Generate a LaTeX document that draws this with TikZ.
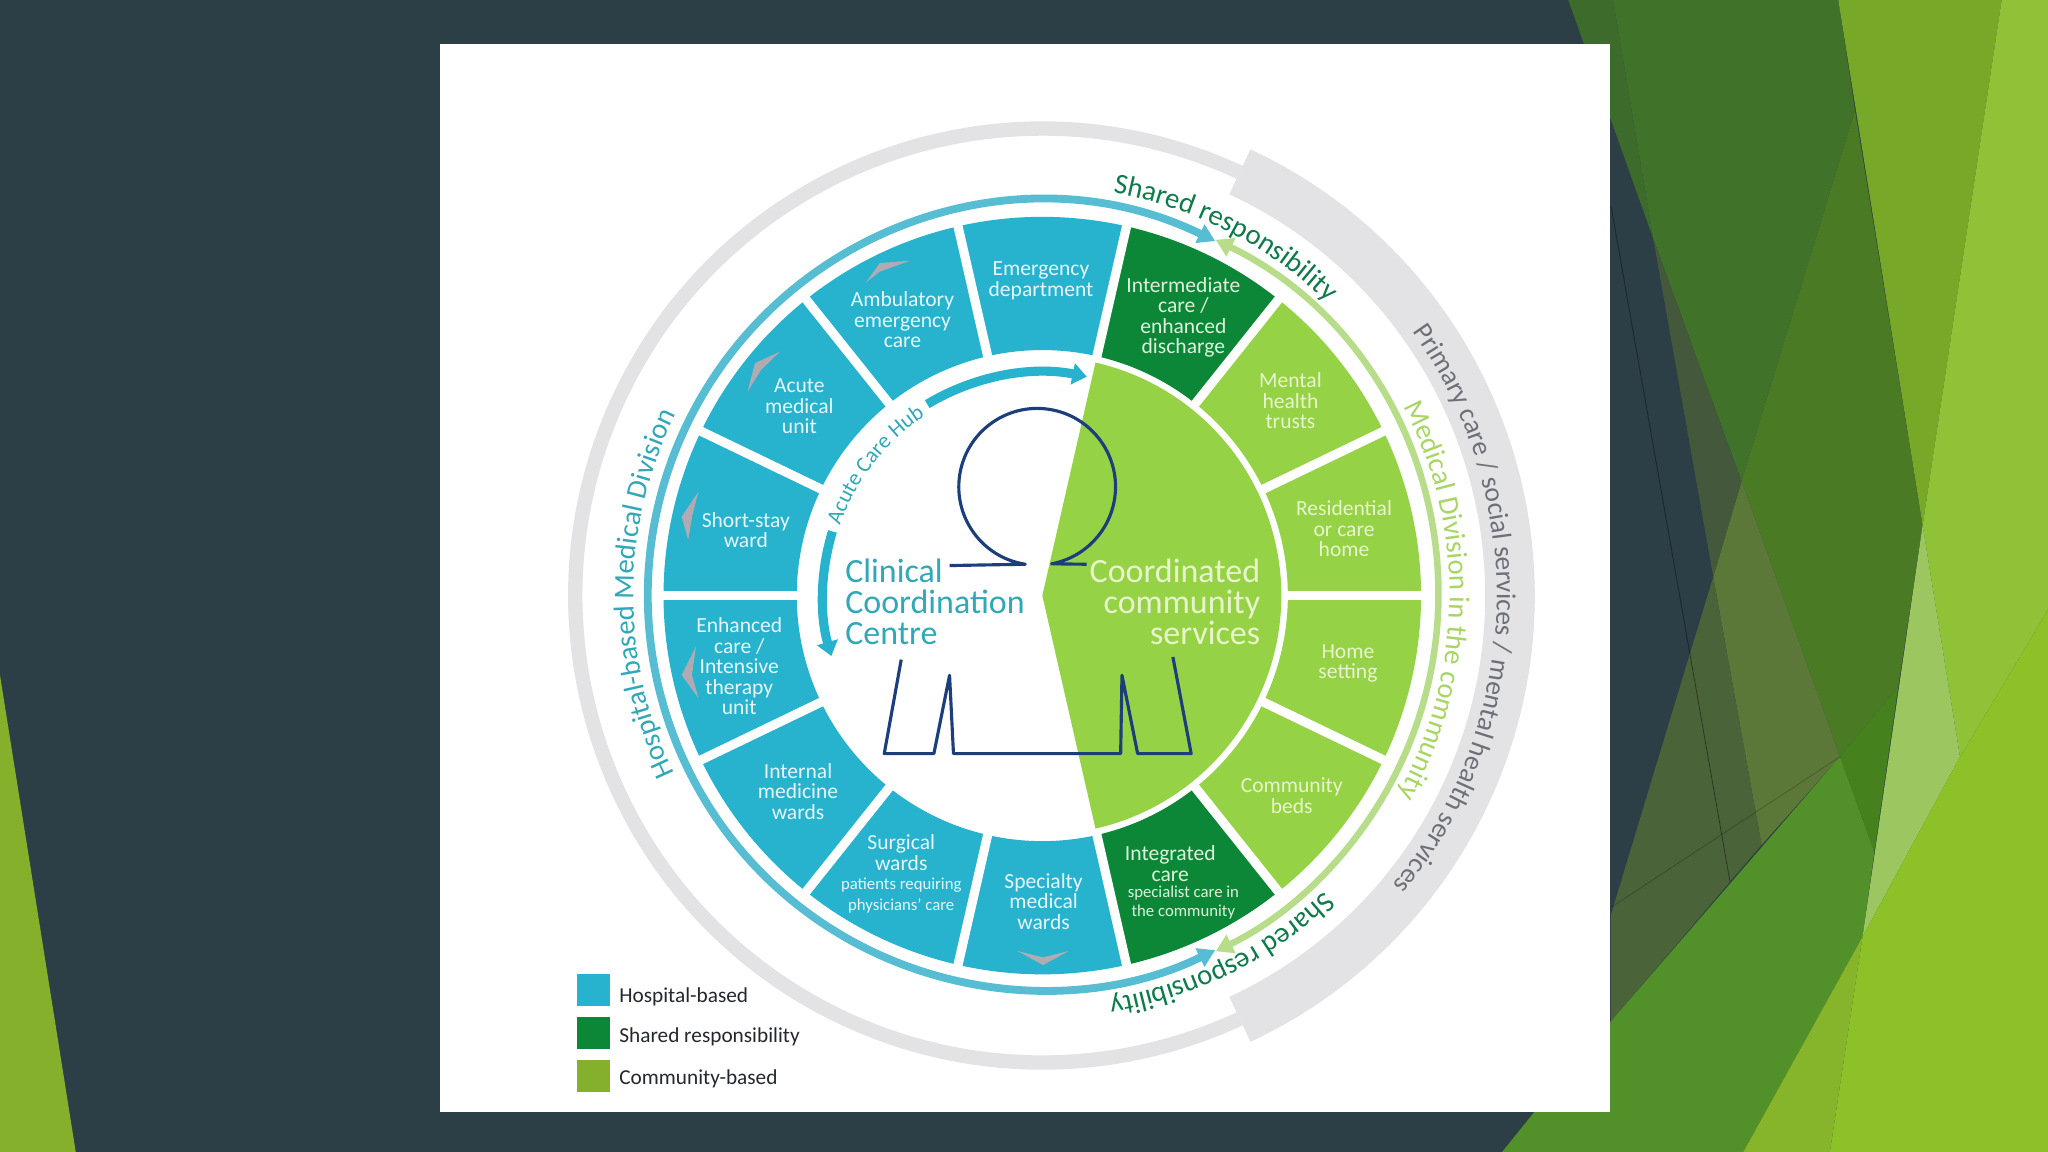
\documentclass[tikz,border=0pt]{standalone}
\usepackage{fontspec}
\setmainfont{Carlito}
\usetikzlibrary{arrows.meta,decorations.text}
\definecolor{slatebg}{HTML}{2C3E46}
\definecolor{cornergreen}{HTML}{84B02B}
\definecolor{polya}{HTML}{3D6B2B}
\definecolor{polyb}{HTML}{41722A}
\definecolor{polyc}{HTML}{4A7A24}
\definecolor{polyd}{HTML}{45811D}
\definecolor{polye}{HTML}{5C7839}
\definecolor{polyf}{HTML}{44593C}
\definecolor{polyg}{HTML}{4B6338}
\definecolor{polyh}{HTML}{52902A}
\definecolor{polyi}{HTML}{86B52B}
\definecolor{polyj}{HTML}{90C238}
\definecolor{polyk}{HTML}{77A828}
\definecolor{polyl}{HTML}{9CC65F}
\definecolor{polym}{HTML}{8CC128}
\definecolor{hospblue}{HTML}{27B2CE}
\definecolor{ringblue}{HTML}{57BDD2}
\definecolor{sharegreen}{HTML}{0C8737}
\definecolor{commgreen}{HTML}{96D246}
\definecolor{ringgreen}{HTML}{B7DD8A}
\definecolor{ringgray}{HTML}{E3E3E6}
\definecolor{figblue}{HTML}{1C3F7C}
\definecolor{hubteal}{HTML}{31A8B8}
\definecolor{hintgray}{HTML}{B0AAB2}
\definecolor{sharetext}{HTML}{0F7A4A}
\definecolor{grayarc}{HTML}{6E7078}
\definecolor{medgreen}{HTML}{A9D565}
\definecolor{bluelbl}{HTML}{E6F7FA}
\definecolor{greenlbl}{HTML}{E8F5CC}
\definecolor{sharelbl}{HTML}{DDF2DC}
\definecolor{legendink}{HTML}{23272E}
\newcommand{\segsmall}{\fontsize{12.8}{14.5}\selectfont}
\begin{document}
\begin{tikzpicture}[x=1pt,y=1pt,
  seglbl/.style={align=center, inner sep=0pt, text=#1, font=\fontsize{16.5}{15.7}\selectfont},
  hublbl/.style={inner sep=0pt, font=\fontsize{26}{23.5}\selectfont},
  legendbox/.style={minimum width=25pt, minimum height=24.5pt, inner sep=0pt},
  legendlbl/.style={anchor=west, inner sep=0pt, text=legendink, font=\fontsize{16.3}{18}\selectfont},
  figline/.style={draw=figblue, line width=2.4pt, line join=round},
  hint/.style={fill=hintgray, draw=none},
  arclabel/.style n args={3}{decorate, decoration={text along path, text align=center,
      text={|\fontsize{#1}{#1}\selectfont\color{#2}|#3}}},
]
\useasboundingbox (0,0) rectangle (1568,-882);
\fill[slatebg] (0,0) rectangle (1568,-882);
\fill[cornergreen] (0,-517) -- (58,-882) -- (0,-882) -- cycle;
\fill[polya] (1200.7,0) -- (1235,0) -- (1265.8,-182.8) -- cycle;
\fill[polyb] (1235,0) -- (1407.4,0) -- (1420.2,-84.4) -- (1333.4,-368.4) -- (1265.8,-182.8) -- cycle;
\fill[polyc] (1420.2,-84.4) -- (1472,-402.2) -- (1453.3,-525.9) -- (1408.7,-579.4) -- (1333.4,-368.4) -- cycle;
\fill[polyd] (1453.3,-525.9) -- (1435,-652.5) -- (1408.7,-579.4) -- cycle;
\fill[polye] (1333.4,-368.4) -- (1408.7,-579.4) -- (1348.7,-646.9) -- (1311.7,-441.6) -- cycle;
\fill[polyf] (1265.8,-182.8) -- (1333.4,-368.4) -- (1311.7,-441.6) -- cycle;
\fill[polyg] (1311.7,-441.6) -- (1348.7,-646.9) -- (1324.5,-675) -- (1293.8,-500.6) -- cycle;
\fill[polyg] (1293.8,-500.6) -- (1324.5,-675) -- (1233.4,-781.9) -- (1233.4,-700.3) -- cycle;
\fill[polyh] (1233.4,-781.9) -- (1408.7,-579.4) -- (1435,-652.5) -- (1426,-717.2) -- (1334.7,-882) -- (1150,-882) -- (1175,-851) -- cycle;
\fill[polyi] (1426,-717.2) -- (1401,-882) -- (1334.7,-882) -- cycle;
\fill[polyk] (1407.4,0) -- (1532.5,0) -- (1472,-402.2) -- cycle;
\fill[polyj] (1532.5,0) -- (1568,0) -- (1568,-466.9) -- (1500.6,-579.4) -- (1472,-402.2) -- cycle;
\fill[polyl] (1472,-402.2) -- (1500.6,-579.4) -- (1426,-717.2) -- cycle;
\fill[polym] (1568,-466.9) -- (1568,-882) -- (1401,-882) -- (1426,-717.2) -- (1500.6,-579.4) -- cycle;
\draw[black,opacity=.35,line width=.7pt] (1233.4,-157.5) -- (1324.5,-675);
\draw[black,opacity=.2,line width=.7pt] (1233.4,-694.7) -- (1408.7,-579.4);
\fill[white] (337,-34) rectangle (1233,-851);
\begin{scope}[shift={(798,-456)}]
\draw[ringgray,line width=11pt] (65:357.5) arc[start angle=65,end angle=295,radius=357.5];
\draw[ringgray,line width=38pt] (65:358) arc[start angle=65,end angle=-65,radius=358];
\draw[ringgreen,line width=5pt,{Triangle[length=13pt,width=15pt]}-{Triangle[length=13pt,width=15pt]}]
  (64:303) arc[start angle=64,end angle=-64,radius=303];
\draw[ringblue,line width=6pt,{Triangle[length=13pt,width=15pt]}-{Triangle[length=13pt,width=15pt]}]
  (64:302) arc[start angle=64,end angle=296,radius=302];
\foreach \a/\col in {0/commgreen,1/commgreen,2/sharegreen,3/hospblue,4/hospblue,5/hospblue,6/hospblue,
                     7/hospblue,8/hospblue,9/hospblue,10/hospblue,11/sharegreen,12/commgreen,13/commgreen}
  \fill[\col] ({\a*360/14}:188) arc[start angle={\a*360/14},end angle={(\a+1)*360/14},radius=188]
    -- ({(\a+1)*360/14}:290) arc[start angle={(\a+1)*360/14},end angle={\a*360/14},radius=290] -- cycle;
\foreach \a in {0,...,13}
  \draw[white,line width=7pt] ({\a*360/14}:180) -- ({\a*360/14}:294);
\fill[commgreen] (0,0) -- (-77.14:183) arc[start angle=-77.14,end angle=77.14,radius=183] -- cycle;
\draw[hospblue,line width=7pt,-{Triangle[length=11pt,width=16pt]}]
  (121:171) arc[start angle=121,end angle=78.5,radius=171];
\draw[hospblue,line width=7pt,-{Triangle[length=11pt,width=16pt]}]
  (163:168) arc[start angle=163,end angle=196,radius=168];
\path[arclabel={22}{hubteal}{Hospital-based Medical Division}] (210:313) arc[start angle=210,end angle=149.5,radius=313];
\path[arclabel={22}{medgreen}{Medical Division in the community}] (32:312) arc[start angle=32,end angle=-33.5,radius=312];
\path[arclabel={21}{grayarc}{Primary care / social services / mental health services}] (42:348) arc[start angle=42,end angle=-46,radius=348];
\path[arclabel={22}{sharetext}{Shared responsibility}] (85:313) arc[start angle=85,end angle=40.8,radius=313];
\path[arclabel={22}{sharetext}{Shared responsibility}] (-40.5:313) arc[start angle=-40.5,end angle=-86.5,radius=313];
\path[arclabel={17}{hubteal}{Acute Care Hub}] (166:164) arc[start angle=166,end angle=117.9,radius=164];
\end{scope}
\fill[hint] (696.8,-199.6) -- (673.5,-201.4) -- (663,-216.4) -- (673.5,-208) -- cycle;
\fill[hint] (597.2,-269.2) -- (578,-278) -- (572.3,-299.9) -- (582.7,-283.3) -- cycle;
\fill[hint] (534.8,-376.4) -- (521.9,-395.6) -- (526.9,-413.4) -- (530,-395) -- cycle;
\fill[hint] (532.8,-495) -- (521.9,-516.8) -- (534.8,-534.7) -- (529.8,-516.8) -- cycle;
\fill[hint] (778.8,-728) -- (798.6,-738.9) -- (818.5,-728) -- (798.6,-733) -- cycle;
\draw[figline] (727,-433) -- (785,-432) arc[start angle=261.3,end angle=-79.4,radius=60] -- (832,-432);
\draw[figline] (690,-505) -- (677,-577) -- (715,-577) -- (727,-517) -- (730,-577) -- (858,-577) -- (859,-517) -- (871,-577) -- (912,-577) -- (898,-503);
\node[hublbl,text=hubteal,align=left,anchor=north west] (clinical) at (647,-428) {Clinical\\Coordination\\Centre};
\node[hublbl,text=greenlbl,align=right,anchor=north east] (coordinated) at (965,-428) {Coordinated\\community\\services};
\node[seglbl=bluelbl] (emergency) at (797,-215) {Emergency\\department};
\node[seglbl=bluelbl] (ambulatory) at (691,-245) {Ambulatory\\emergency\\care};
\node[seglbl=bluelbl] (acute) at (612,-311) {Acute\\medical\\unit};
\node[seglbl=bluelbl] (shortstay) at (571,-406) {Short-stay\\ward};
\node[seglbl=bluelbl] (enhanced) at (566,-510) {Enhanced\\care /\\Intensive\\therapy\\unit};
\node[seglbl=bluelbl] (internal) at (611,-606) {Internal\\medicine\\wards};
\node[seglbl=bluelbl] (surgical) at (690,-669) {Surgical\\wards\\[-1pt]{\segsmall patients requiring}\\{\segsmall physicians' care}};
\node[seglbl=bluelbl] (specialty) at (799,-690) {Specialty\\medical\\wards};
\node[seglbl=sharelbl] (intermediate) at (906,-243) {Intermediate\\care /\\enhanced\\discharge};
\node[seglbl=greenlbl] (mental) at (988,-307) {Mental\\health\\trusts};
\node[seglbl=greenlbl] (residential) at (1029,-405) {Residential\\or care\\home};
\node[seglbl=greenlbl] (home) at (1032,-508) {Home\\setting};
\node[seglbl=greenlbl] (beds) at (989,-609) {Community\\beds};
\node[seglbl=sharelbl] (integrated) at (896,-661) {Integrated\\care};
\node[seglbl=sharelbl,font=\segsmall] (integratedsub) at (906,-691) {specialist care in\\the community};
\node[legendbox,fill=hospblue] (keyhosp) at (454.5,-758) {};
\node[legendbox,fill=sharegreen] (keyshare) at (454.5,-791) {};
\node[legendbox,fill=cornergreen] (keycomm) at (454.5,-823.5) {};
\node[legendlbl] (keyhosplbl) at (474,-763) {Hospital-based};
\node[legendlbl] (keysharelbl) at (474,-794) {Shared responsibility};
\node[legendlbl] (keycommlbl) at (474,-826) {Community-based};
\end{tikzpicture}
\end{document}
